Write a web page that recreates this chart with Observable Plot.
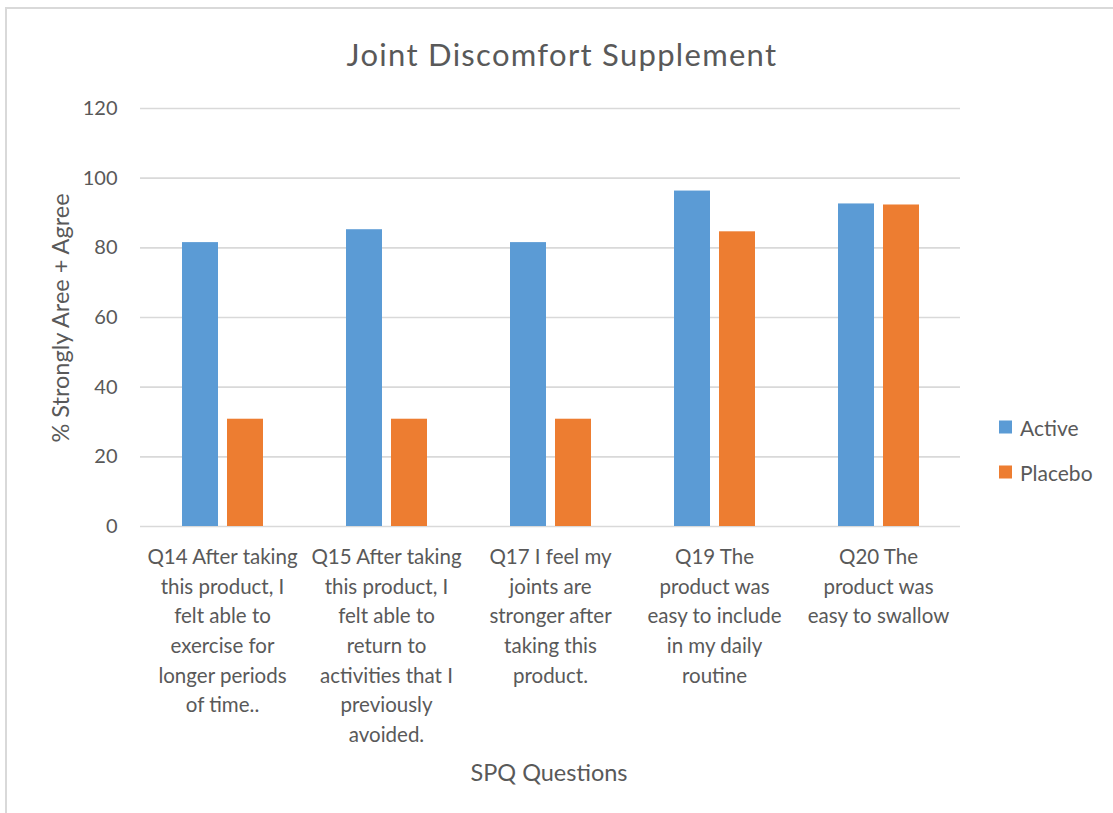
<!DOCTYPE html>
<html>
<head>
<meta charset="utf-8">
<script src="https://cdn.jsdelivr.net/npm/d3@7"></script>
<script src="https://cdn.jsdelivr.net/npm/@observablehq/plot@0.6"></script>
<style>
  html, body { margin: 0; padding: 0; background: #fff; }
  #wrap { position: relative; width: 1113px; height: 813px; overflow: hidden; background: #fff; font-family: Lato, "Open Sans", sans-serif; color: #595959; }
  #border { position: absolute; left: 5px; top: 7px; width: 1200px; height: 900px; border: 2px solid #d9d9d9; box-sizing: border-box; }
  #chart { position: absolute; left: 0; top: 0; }
  #title { position: absolute; left: 0; width: 1124px; top: 54px; transform: translateY(-50%); text-align: center; font-size: 31px; letter-spacing: 1.3px; }
  #ylabel { position: absolute; left: 60px; top: 318px; transform: translate(-50%, -50%) rotate(-90deg); white-space: nowrap; font-size: 23.5px; }
  #xlabel { position: absolute; left: 549px; top: 772px; transform: translate(-50%, -50%); white-space: nowrap; font-size: 23.5px; }
  #legend { position: absolute; left: 999px; top: 0; font-size: 21px; }
  .item { position: absolute; left: 0; display: flex; align-items: center; white-space: nowrap; transform: translateY(-50%); }
  .sw { width: 13px; height: 13px; margin-right: 8px; }
</style>
</head>
<body>
<div id="wrap">
  <div id="border"></div>
  <div id="chart"></div>
  <div id="title"></div>
  <div id="ylabel"></div>
  <div id="xlabel"></div>
  <div id="legend"></div>
</div>
<script>
const chartTitle = "Joint Discomfort Supplement";
const yAxisTitle = "% Strongly Aree + Agree";
const xAxisTitle = "SPQ Questions";
const questions = [
  "Q14 After taking this product, I felt able to exercise for longer periods of time..",
  "Q15 After taking this product, I felt able to return to activities that I previously avoided.",
  "Q17 I feel my joints are stronger after taking this product.",
  "Q19 The product was easy to include in my daily routine",
  "Q20 The product was easy to swallow"
];
const questionLabels = [
  "Q14 After taking\nthis product, I\nfelt able to\nexercise for\nlonger periods\nof time..",
  "Q15 After taking\nthis product, I\nfelt able to\nreturn to\nactivities that I\npreviously\navoided.",
  "Q17 I feel my\njoints are\nstronger after\ntaking this\nproduct.",
  "Q19 The\nproduct was\neasy to include\nin my daily\nroutine",
  "Q20 The\nproduct was\neasy to swallow"
];
const series = ["Active", "Placebo"];
const activeValues = [81.5, 85.2, 81.5, 96.3, 92.6];
const placeboValues = [30.8, 30.8, 30.8, 84.6, 92.3];
const yTicks = [0, 20, 40, 60, 80, 100, 120];
const colors = ["#5B9BD5", "#ED7D31"];

const rows = questions.flatMap((q, i) => [
  {question: q, series: series[0], value: activeValues[i]},
  {question: q, series: series[1], value: placeboValues[i]}
]);

const chart = Plot.plot({
  width: 1113,
  height: 813,
  marginLeft: 140,
  marginRight: 153,
  marginTop: 108,
  marginBottom: 287,
  style: {fontFamily: "Lato, 'Open Sans', sans-serif", fontSize: "19.5px", color: "#595959", background: "transparent"},
  fx: {domain: questions, paddingInner: 0, paddingOuter: 0, label: null, axis: null},
  x: {domain: series, paddingInner: 0.2, paddingOuter: 0.9, axis: null},
  y: {domain: [0, 120], label: null, axis: null},
  color: {domain: series, range: colors},
  marks: [
    Plot.gridY(yTicks, {stroke: "#d9d9d9", strokeOpacity: 1, strokeWidth: 1.6}),
    Plot.axisY(yTicks, {anchor: "left", tickSize: 0, tickPadding: 23, fill: "#595959", fontSize: 20, label: null}),
    Plot.axisFx({anchor: "bottom", tickSize: 0, tickPadding: 17, lineHeight: 1.44, fill: "#595959", fontSize: 20.5, label: null,
      tickFormat: q => questionLabels[questions.indexOf(q)]}),
    Plot.barY(rows, {fx: "question", x: "series", y: "value", fill: "series"})
  ]
});
document.getElementById("chart").appendChild(chart);

document.getElementById("title").textContent = chartTitle;
document.getElementById("ylabel").textContent = yAxisTitle;
document.getElementById("xlabel").textContent = xAxisTitle;
const legend = document.getElementById("legend");
const legendY = [427, 472];
series.forEach((s, i) => {
  const item = document.createElement("div");
  item.className = "item";
  item.style.top = legendY[i] + "px";
  item.innerHTML = `<div class="sw" style="background:${colors[i]}"></div><span>${s}</span>`;
  legend.appendChild(item);
});
</script>
</body>
</html>
